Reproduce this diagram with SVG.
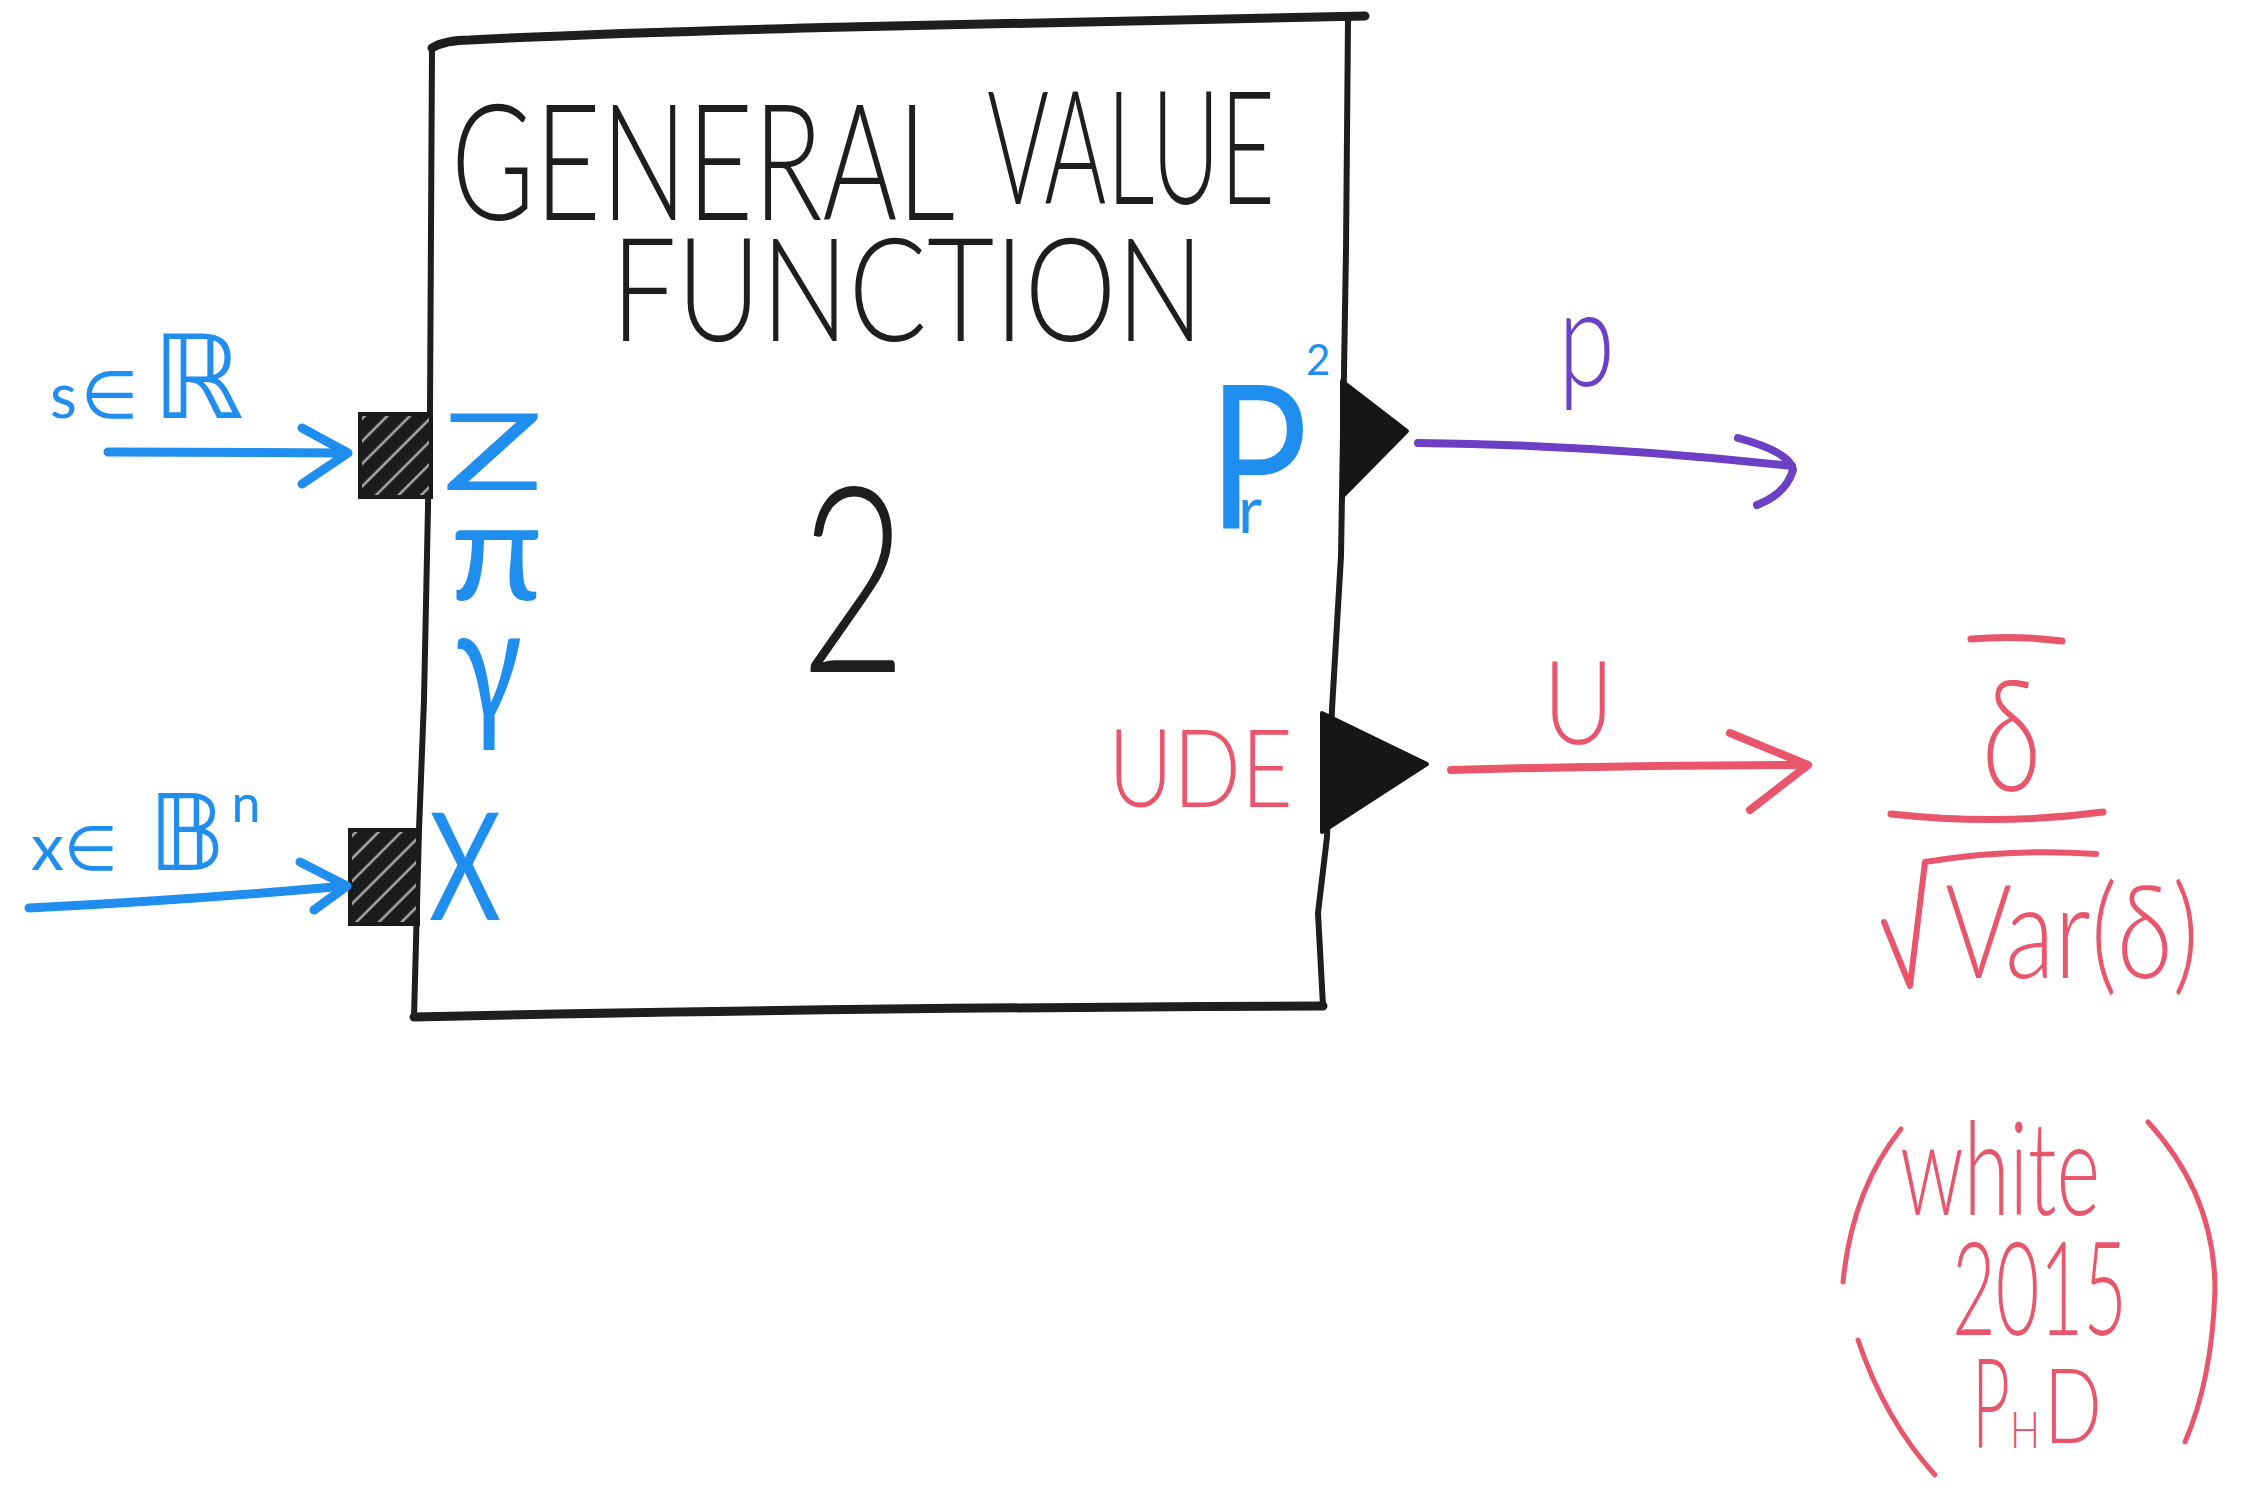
<svg xmlns="http://www.w3.org/2000/svg" width="2241" height="1496" viewBox="0 0 2241 1496">
<style>
.ink{fill:none;stroke-linecap:round;stroke-linejoin:round}
.k{stroke:#1e1e1e}
.b{stroke:#1f8eee}
.p{stroke:#6b3fc6}
.r{stroke:#e9566c}
.t{font-family:Lato,"Liberation Sans","DejaVu Sans",sans-serif;font-weight:300}
.w4{font-weight:400}
.tk{fill:#1e1e1e}
.tb{fill:#1f8eee}
.tp{fill:#6b3fc6}
.tr{fill:#e9566c}
.port{fill:url(#hatch);stroke:#1b1b1b;stroke-width:4}
.tri{fill:#161616;stroke:#161616;stroke-width:4;stroke-linejoin:round}
</style>
<defs>
<pattern id="hatch" patternUnits="userSpaceOnUse" width="16" height="16" patternTransform="rotate(-45)">
<rect width="16" height="16" fill="#1b1b1b"/>
<line x1="0" y1="8" x2="16" y2="8" stroke="#d8d8d8" stroke-width="2.5" opacity="0.75"/>
</pattern>
</defs>
<rect width="2241" height="1496" fill="#ffffff"/>

<g id="gvf-box">
<path class="ink k" stroke-width="9" d="M432,48 Q445,40 470,40 Q600,33 847,27 Q1040,22 1365,16"/>
<path class="ink k" stroke-width="6" d="M432,48 L430,410 L424,700 L419,830 L414,1017"/>
<path class="ink k" stroke-width="9" d="M414,1017 Q800,1008 1323,1006"/>
<path class="ink k" stroke-width="6" d="M1348,20 L1346,250 L1341,556 L1332,709 L1327,837 L1318,913 L1323,1006"/>
<text class="t tk" x="451" y="220" font-size="162" textLength="504" lengthAdjust="spacingAndGlyphs">GENERAL</text>
<text class="t tk" x="987" y="204" font-size="158" textLength="288" lengthAdjust="spacingAndGlyphs">VALUE</text>
<text class="t tk" x="611" y="341" font-size="145" textLength="593" lengthAdjust="spacingAndGlyphs">FUNCTION</text>
<text class="t tk" x="800" y="672" font-size="260" textLength="107" lengthAdjust="spacingAndGlyphs">2</text>
</g>

<g id="port-z">
<rect class="port" x="360" y="414" width="71" height="83"/>
</g>
<g id="port-x">
<rect class="port" x="350" y="830" width="68" height="94"/>
</g>
<g id="input-labels">
<text class="t w4 tb"><tspan x="443" y="490" font-size="106" textLength="100" lengthAdjust="spacingAndGlyphs">Z</tspan><tspan x="450" y="600" font-size="140" textLength="93" lengthAdjust="spacingAndGlyphs">π</tspan><tspan x="455" y="722" font-size="165" textLength="67" lengthAdjust="spacingAndGlyphs">γ</tspan><tspan x="429" y="920" font-size="150" textLength="72" lengthAdjust="spacingAndGlyphs">X</tspan></text>
</g>

<g id="port-rho">
<path class="tri" d="M1342,381 L1407,431 L1342,497 Z"/>
<text class="t w4 tb"><tspan x="1208" y="529" font-size="200" textLength="100" lengthAdjust="spacingAndGlyphs">P</tspan><tspan x="1306" y="375" font-size="42">2</tspan><tspan x="1238" y="533" font-size="66">r</tspan></text>
</g>
<g id="port-ude">
<path class="tri" d="M1322,713 L1427,764 L1322,832 Z"/>
<text class="t tr" x="1108" y="807" font-size="109" textLength="185" lengthAdjust="spacingAndGlyphs">UDE</text>
</g>

<g id="input-s">
<text class="t w4 tb" x="50" y="418"><tspan font-size="62">s</tspan><tspan font-size="66" dx="4">∈</tspan><tspan font-size="116" dx="14">ℝ</tspan></text>
</g>
<g id="input-x">
<text class="t w4 tb" x="31" y="870"><tspan font-size="66">x</tspan><tspan font-size="62">∈</tspan><tspan font-size="106" dx="30">𝔹</tspan><tspan font-size="52" dy="-48" dx="6">n</tspan></text>
</g>

<g id="output-rho">
<text class="t tp" x="1558" y="386" font-size="137" textLength="57" lengthAdjust="spacingAndGlyphs">p</text>
</g>
<g id="output-u">
<text class="t tr" x="1543" y="744" font-size="116" textLength="71" lengthAdjust="spacingAndGlyphs">U</text>
</g>

<g id="formula">
<path class="ink r" stroke-width="7" d="M1971,639 Q2015,635 2062,641"/>
<text class="t tr" x="1982" y="791" font-size="157" textLength="59" lengthAdjust="spacingAndGlyphs">δ</text>
<path class="ink r" stroke-width="7" d="M1891,814 Q2000,826 2103,812"/>
<path class="ink r" stroke-width="6" d="M1884,922 L1910,986 L1925,862 Q2010,848 2096,854"/>
<text class="t tr" x="1945" y="978" font-size="130" textLength="254" lengthAdjust="spacingAndGlyphs">Var(δ)</text>
</g>

<g id="reference">
<path class="ink r" stroke-width="5" d="M1901,1129 Q1852,1190 1843,1282"/>
<path class="ink r" stroke-width="5" d="M1858,1340 Q1885,1420 1935,1475"/>
<path class="ink r" stroke-width="5" d="M2148,1122 Q2215,1195 2215,1290 Q2212,1380 2185,1442"/>
<text class="t tr"><tspan x="1900" y="1215" font-size="130" textLength="200" lengthAdjust="spacingAndGlyphs">white</tspan><tspan x="1952" y="1335" font-size="130" textLength="175" lengthAdjust="spacingAndGlyphs">2015</tspan><tspan x="1972" y="1448" font-size="125" textLength="38" lengthAdjust="spacingAndGlyphs">P</tspan><tspan x="2010" y="1448" font-size="52" textLength="30" lengthAdjust="spacingAndGlyphs">H</tspan><tspan x="2044" y="1443" font-size="105" textLength="58" lengthAdjust="spacingAndGlyphs">D</tspan></text>
</g>

<g id="connectors">
<path class="ink b" stroke-width="9" d="M108,452 L346,453"/>
<path class="ink b" stroke-width="9" d="M302,428 L348,453 L302,484"/>
<path class="ink b" stroke-width="9" d="M29,908 Q190,900 345,886"/>
<path class="ink b" stroke-width="9" d="M300,862 L347,886 L314,910"/>
<path class="ink p" stroke-width="8" d="M1418,443 Q1600,445 1792,466"/>
<path class="ink p" stroke-width="8" d="M1738,438 Q1790,452 1793,470 Q1786,494 1757,505"/>
<path class="ink r" stroke-width="8" d="M1451,770 Q1630,765 1806,765"/>
<path class="ink r" stroke-width="8" d="M1730,733 L1808,765 L1750,810"/>
</g>
</svg>
